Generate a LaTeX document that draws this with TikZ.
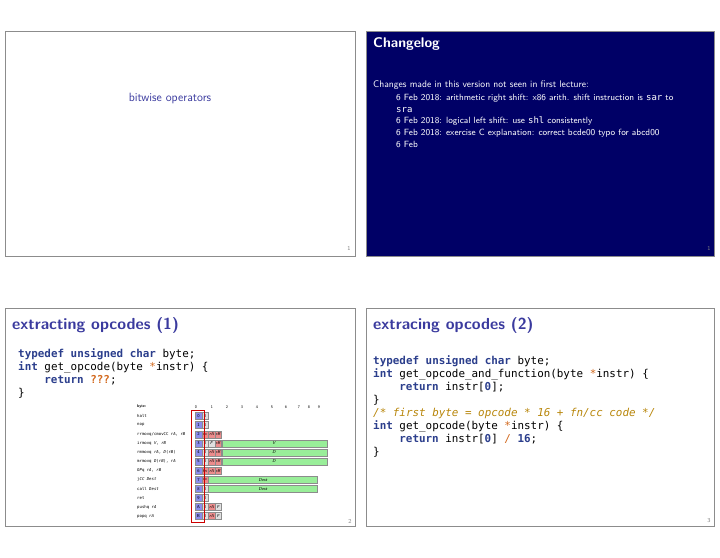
\documentclass[tikz,border=0pt]{standalone}
\usepackage{fontspec}
\setmonofont{DejaVu Sans Mono}
\begin{document}
\begin{tikzpicture}[x=1pt,y=-1pt,
  frame/.style={draw=black!45,line width=0.8pt},
  ttl/.style={anchor=west,font=\sffamily\bfseries\fontsize{16}{18}\selectfont,text=ttlc,inner sep=0},
  code/.style={anchor=west,font=\ttfamily\fontsize{10.9}{12}\selectfont,inner sep=0},
  pg/.style={font=\sffamily\fontsize{6}{7}\selectfont,text=black!50,inner sep=0},
  cell/.style={draw=black!45,line width=0.3pt,minimum width=6.6pt,minimum height=7pt,inner sep=0,font=\sffamily\fontsize{4.3}{5}\selectfont},
  lbl/.style={anchor=west,inner sep=0,font=\ttfamily\fontsize{4}{5}\selectfont},
  hd/.style={inner sep=0,font=\sffamily\fontsize{4}{5}\selectfont}]
\definecolor{ttlc}{HTML}{3A3A9E}
\definecolor{kw}{HTML}{2B3E8C}
\definecolor{orn}{HTML}{D2691E}
\definecolor{cmt}{HTML}{B8860B}
\definecolor{navy}{HTML}{000066}
\definecolor{bluec}{HTML}{8C8CEB}
\definecolor{redc}{HTML}{EB8C8C}
\definecolor{grayc}{HTML}{E0E0E0}
\definecolor{greenc}{HTML}{99EE99}
\newcommand{\kw}[1]{\textcolor{kw}{\bfseries #1}}
\useasboundingbox (0,0) rectangle (720,557);
% slide 1
\draw[frame] (5,31) rectangle (355,256);
\node[font=\sffamily\fontsize{12}{14}\selectfont,text=ttlc] (t1) at (170,98) {bitwise operators};
\node[pg] (p1) at (349,248) {1};
% slide 2
\fill[navy] (366,31) rectangle (714,256);
\draw[frame] (366,31) rectangle (714,256);
\node[anchor=west,inner sep=0,font=\sffamily\bfseries\fontsize{14}{16}\selectfont,text=white] (t2) at (373,44) {Changelog};
\node[anchor=west,inner sep=0,font=\sffamily\fontsize{9.6}{11}\selectfont,text=white] (c0) at (373,85) {Changes made in this version not seen in first lecture:};
\begin{scope}[every node/.style={anchor=west,inner sep=0,font=\sffamily\fontsize{9}{10}\selectfont,text=white}]
\node (c1) at (396,98) {6 Feb 2018: arithmetic right shift: x86 arith. shift instruction is \texttt{sar} to};
\node (c1b) at (396,110) {\texttt{sra}};
\node (c2) at (396,121) {6 Feb 2018: logical left shift: use \texttt{shl} consistently};
\node (c3) at (396,133) {6 Feb 2018: exercise C explanation: correct bcde00 typo for abcd00};
\node (c4) at (396,144) {6 Feb};
\end{scope}
\node[pg] (p2) at (709,248) {1};
% slide 3
\draw[frame] (5,308) rectangle (355,526);
\node[ttl] (t3) at (12,325) {extracting opcodes (1)};
\node[code] (a1) at (18,354) {\kw{typedef unsigned char} byte;};
\node[code] (a2) at (18,367) {\kw{int} get\_opcode(byte \textcolor{orn}{*}instr) \{};
\node[code] (a3) at (44.2,380) {\kw{return} \textcolor{orn}{\bfseries ???};};
\node[code] (a4) at (18,393) {\}};
\node[pg] (p3) at (350,521) {2};
% table
\node[anchor=west,inner sep=0,font=\sffamily\bfseries\fontsize{4}{5}\selectfont] (by) at (137,407) {byte:};
\foreach \c/\x in {0/196,1/212,2/227,3/242,4/257,5/272,6/286,7/299,8/309,9/319}
  \node[hd] (h\c) at (\x,407) {\c};
\foreach \i/\op/\nm in {0/0/halt,1/1/nop,2/2/{rrmovq/cmovCC \textit{rA}, \textit{rB}},3/3/{irmovq \textit{V}, \textit{rB}},4/4/{rmmovq \textit{rA}, \textit{D}(\textit{rB})},5/5/{mrmovq \textit{D}(\textit{rB}), \textit{rA}},6/6/{\textit{OP}q \textit{rA}, \textit{rB}},7/7/{j\textit{CC} \textit{Dest}},8/8/{call \textit{Dest}},9/9/ret,10/A/{pushq \textit{rA}},11/B/{popq \textit{rA}}}{
  \node[lbl] (l\i) at (137,416+9.1*\i) {\nm};
  \node[cell,fill=bluec] (o\i) at (198.5,416+9.1*\i) {\op};
}
\foreach \i/\f/\t in {0/grayc/0,1/grayc/0,2/redc/cc,3/grayc/0,4/grayc/0,5/grayc/0,6/redc/fn,7/redc/cc,8/grayc/0,9/grayc/0,10/grayc/0,11/grayc/0}
  \node[cell,fill=\f] (s\i) at (205.1,416+9.1*\i) {\t};
\foreach \i/\f/\t in {2/redc/rA,3/grayc/F,4/redc/rA,5/redc/rA,6/redc/rA,10/redc/rA,11/redc/rA}
  \node[cell,fill=\f] (r\i) at (211.7,416+9.1*\i) {\textit{\t}};
\foreach \i/\f/\t in {2/redc/rB,3/redc/rB,4/redc/rB,5/redc/rB,6/redc/rB,10/grayc/F,11/grayc/F}
  \node[cell,fill=\f] (q\i) at (218.3,416+9.1*\i) {\textit{\t}};
\foreach \i/\t in {3/V,4/D,5/D}
  \node[cell,fill=greenc,minimum width=105pt,anchor=west] (g\i) at (221.6,416+9.1*\i) {\textit{\t}};
\foreach \i in {7,8}
  \node[cell,fill=greenc,minimum width=109pt,anchor=west] (d\i) at (208.4,416+9.1*\i) {\textit{Dest}};
\draw[red!80!black,line width=0.8pt] (191,410) rectangle (204,522);
% slide 4
\draw[frame] (366,308) rectangle (714,526);
\node[ttl] (t4) at (373,325) {extracing opcodes (2)};
\node[code] (b1) at (373,361) {\kw{typedef unsigned char} byte;};
\node[code] (b2) at (373,374) {\kw{int} get\_opcode\_and\_function(byte \textcolor{orn}{*}instr) \{};
\node[code] (b3) at (399.2,387) {\kw{return} instr[\textcolor{kw}{\bfseries 0}];};
\node[code] (b4) at (373,400) {\}};
\node[code,text=cmt] (b5) at (373,413) {\itshape /* first byte = opcode * 16 + fn/cc code */};
\node[code] (b6) at (373,426) {\kw{int} get\_opcode(byte \textcolor{orn}{*}instr) \{};
\node[code] (b7) at (399.2,439) {\kw{return} instr[\textcolor{kw}{\bfseries 0}] \textcolor{orn}{/} \textcolor{kw}{\bfseries 16};};
\node[code] (b8) at (373,452) {\}};
\node[pg] (p4) at (709,521) {3};
\end{tikzpicture}
\end{document}
